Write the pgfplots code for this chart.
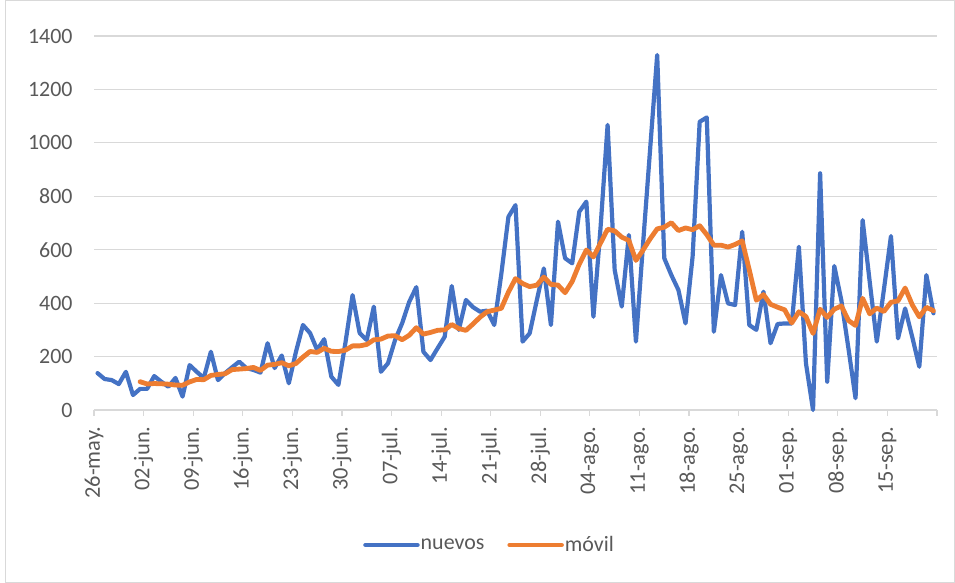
\documentclass[border=0pt]{standalone}
\usepackage{fontspec}
\setmainfont{Carlito}
\usepackage{pgfplots}
\usepackage{pgfplotstable}
\pgfplotsset{compat=1.18}
\definecolor{blueline}{HTML}{4472C4}
\definecolor{orangeline}{HTML}{ED7D31}
\definecolor{gridc}{HTML}{D9D9D9}
\definecolor{textc}{HTML}{595959}

\pgfplotstableread{
day nuevos movil
0 138 nan
1 116 nan
2 112 nan
3 97 nan
4 143 nan
5 56 nan
6 79 105.9
7 79 97.4
8 127 99.0
9 106 98.1
10 87 96.7
11 120 93.4
12 50 92.6
13 168 105.3
14 143 114.4
15 120 113.4
16 218 129.4
17 112 133.0
18 138 135.6
19 160 151.3
20 181 153.1
21 157 155.1
22 150 159.4
23 140 148.3
24 250 168.0
25 157 170.7
26 204 177.0
27 100 165.4
28 217 174.0
29 318 198.0
30 288 219.1
31 225 215.6
32 265 231.0
33 125 219.7
34 94 218.9
35 253 224.0
36 430 240.0
37 288 240.0
38 262 245.3
39 387 262.7
40 143 265.3
41 175 276.9
42 262 278.1
43 325 263.1
44 405 279.9
45 460 308.1
46 218 284.0
47 187 290.3
48 231 298.3
49 274 300.0
50 464 319.9
51 300 304.9
52 412 298.0
53 385 321.9
54 368 347.7
55 372 367.9
56 318 374.1
57 510 380.7
58 723 441.1
59 767 491.9
60 256 473.4
61 287 461.9
62 410 467.3
63 530 497.6
64 318 470.1
65 705 467.6
66 568 439.1
67 549 481.0
68 742 546.0
69 780 598.9
70 349 573.0
71 681 624.9
72 1067 676.6
73 524 670.3
74 387 647.1
75 655 634.7
76 256 559.9
77 620 598.6
78 975 640.6
79 1329 678.0
80 568 684.3
81 505 701.1
82 449 671.7
83 324 681.4
84 574 674.9
85 1079 689.7
86 1095 656.3
87 293 617.0
88 505 617.0
89 399 609.9
90 393 619.7
91 667 633.0
92 318 524.3
93 300 410.7
94 443 432.1
95 250 395.7
96 322 384.7
97 324 374.9
98 324 325.9
99 611 367.7
100 175 349.9
101 0 286.6
102 886 377.4
103 106 346.6
104 539 377.3
105 410 389.6
106 230 335.1
107 44 316.4
108 711 418.0
109 480 360.0
110 256 381.4
111 450 368.7
112 651 403.1
113 268 408.6
114 380 456.6
115 274 394.1
116 162 348.7
117 505 384.3
118 362 371.7
}\datatable

\begin{document}
\begin{tikzpicture}
\path[use as bounding box] (0,0) rectangle (955bp,583bp);
\draw[gridc, line width=0.8bp] (5bp,0.5bp) rectangle (954.5bp,582.5bp);
\begin{axis}[
  at={(94bp,173bp)}, anchor=south west,
  scale only axis, width=843bp, height=374bp,
  xmin=-0.5, xmax=118.5, ymin=0, ymax=1400,
  clip=false,
  separate axis lines,
  axis x line*=bottom, axis y line*=left,
  x axis line style={gridc, line width=1.2bp, -},
  y axis line style={draw=none},
  xtick={-0.5,6.5,13.5,20.5,27.5,34.5,41.5,48.5,55.5,62.5,69.5,76.5,83.5,90.5,97.5,104.5,111.5,118.5},
  xticklabels={26-may.,02-jun.,09-jun.,16-jun.,23-jun.,30-jun.,07-jul.,14-jul.,21-jul.,28-jul.,04-ago.,11-ago.,18-ago.,25-ago.,01-sep.,08-sep.,15-sep.,{}},
  ytick={0,200,400,600,800,1000,1200,1400},
  ymajorgrids, grid style={gridc, line width=1.2bp},
  x tick style={gridc, line width=1.2bp},
  tick align=outside,
  major tick length=6bp,
  y tick style={draw=none},
  /pgf/number format/1000 sep={},
  /pgf/number format/assume math mode=true,
  xticklabel shift=7bp,
  xticklabel style={rotate=90, anchor=east, font=\fontsize{22.5}{26}\selectfont, text=textc},
  yticklabel style={font=\fontsize{22}{26}\selectfont, text=textc, xshift=-12bp},
  legend style={at={(0.4686,-0.361)}, anchor=center, draw=none, fill=none,
    legend columns=2, font=\fontsize{22}{26}\selectfont, text=textc,
    /tikz/every even column/.append style={column sep=22bp},
    nodes={inner sep=1bp}},
  legend image code/.code={\draw[#1, line width=4.5bp, line cap=round] (0bp,0bp) -- (52bp,0bp);},
]
\addplot[blueline, line width=4.2bp, line join=round, line cap=round] table[x=day, y=nuevos] {\datatable};
\addlegendentry{nuevos}
\addplot[orangeline, line width=4.8bp, line join=round, line cap=round] table[x=day, y=movil] {\datatable};
\addlegendentry{móvil}
\end{axis}
\end{tikzpicture}
\end{document}
